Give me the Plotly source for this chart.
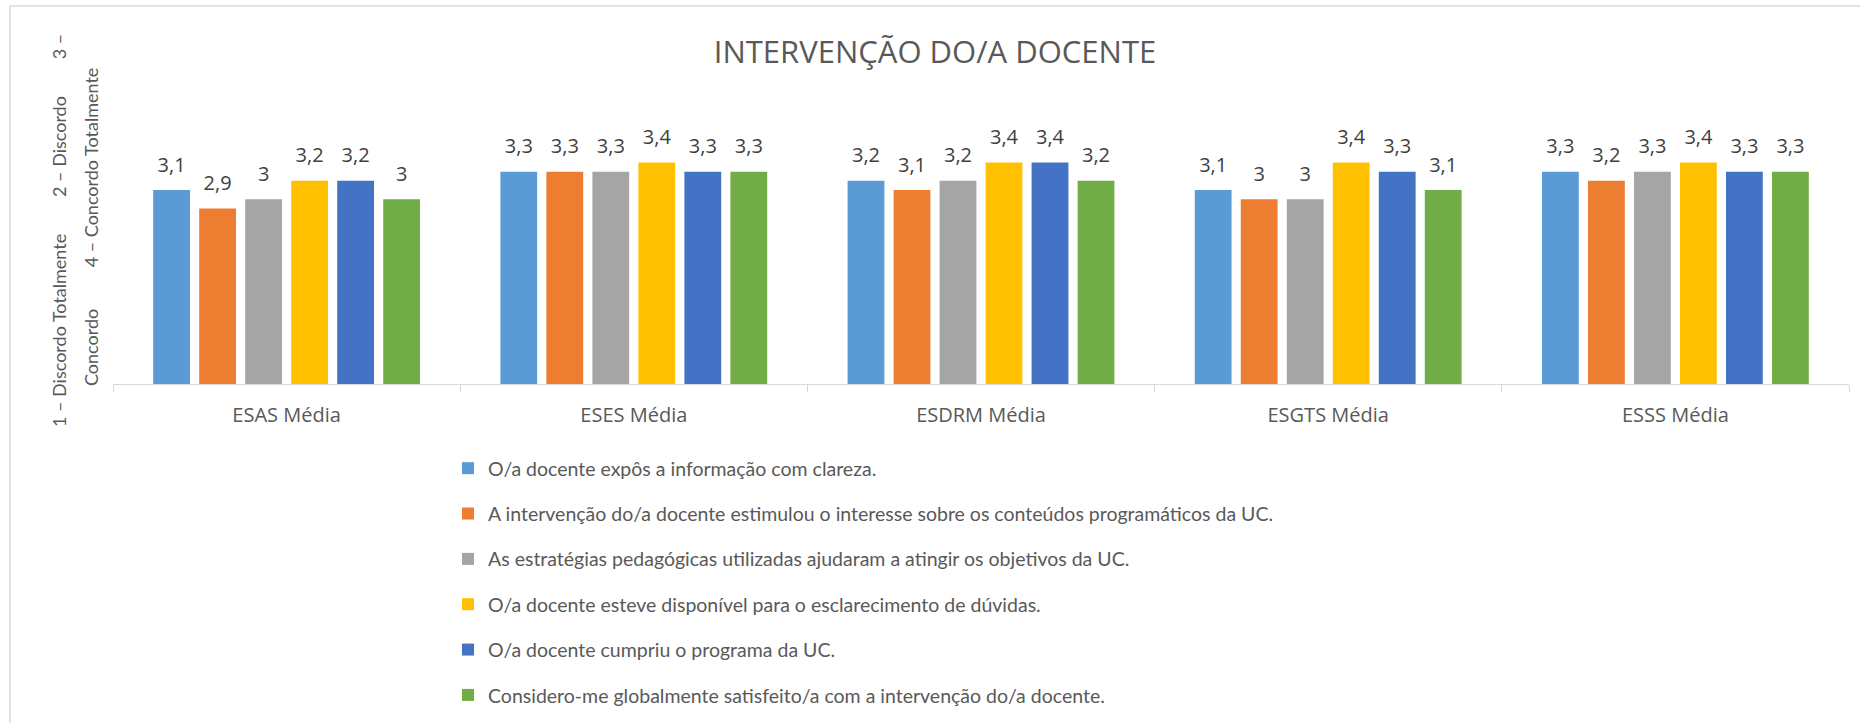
import plotly.graph_objects as go

categories = ["ESAS Média", "ESES Média", "ESDRM Média", "ESGTS Média", "ESSS Média"]
series_names = [
    "O/a docente expôs a informação com clareza.",
    "A intervenção do/a docente estimulou o interesse sobre os conteúdos programáticos da UC.",
    "As estratégias pedagógicas utilizadas ajudaram a atingir os objetivos da UC.",
    "O/a docente esteve disponível para o esclarecimento de dúvidas.",
    "O/a docente cumpriu o programa da UC.",
    "Considero-me globalmente satisfeito/a com a intervenção do/a docente.",
]
s1 = [3.1, 3.3, 3.2, 3.1, 3.3]
s2 = [2.9, 3.3, 3.1, 3.0, 3.2]
s3 = [3.0, 3.3, 3.2, 3.0, 3.3]
s4 = [3.2, 3.4, 3.4, 3.4, 3.4]
s5 = [3.2, 3.3, 3.4, 3.3, 3.3]
s6 = [3.0, 3.3, 3.2, 3.1, 3.3]
series_values = [s1, s2, s3, s4, s5, s6]
colors = ["#5B9BD5", "#ED7D31", "#A5A5A5", "#FFC000", "#4472C4", "#70AD47"]

title_text = "INTERVENÇÃO DO/A DOCENTE"
NB = "\u00a0"
ytitle_line1 = "1 – Discordo Totalmente" + NB * 8 + "2 – Discordo" + NB * 8 + "3 –"
ytitle_line2 = "Concordo" + NB * 9 + "4 – Concordo Totalmente"

W, H = 1860, 723
L, R, T, B = 113, 11, 107, 339
PW = W - L - R
PH = H - T - B


def px_x(p):
    return (p - L) / PW


def px_y(p):
    return (H - B - p) / PH


def fmt(v):
    return f"{v:g}".replace(".", ",")


BODY = "Open Sans, Segoe UI, sans-serif"
NARROW = "Lato, sans-serif"

fig = go.Figure()
for i, (name, vals, col) in enumerate(zip(series_names, series_values, colors)):
    fig.add_trace(go.Bar(
        x=categories, y=vals, name=name,
        marker=dict(color=col, line=dict(width=0)),
        offsetgroup=f"g{i}", alignmentgroup="a", legendgroup=f"g{i}",
        hoverinfo="skip",
    ))
for i, (name, vals) in enumerate(zip(series_names, series_values)):
    fig.add_trace(go.Scatter(
        x=categories, y=vals, mode="markers+text",
        text=[fmt(v) for v in vals], textposition="top center",
        textfont=dict(family=BODY, size=20, color="#404040"),
        marker=dict(size=20, opacity=0),
        offsetgroup=f"g{i}", alignmentgroup="a", orientation="v",
        showlegend=False, hoverinfo="skip", cliponaxis=False,
    ))

fig.update_layout(
    width=W, height=H,
    margin=dict(l=L, r=R, t=T, b=B, autoexpand=False),
    paper_bgcolor="white", plot_bgcolor="white",
    barmode="group", bargap=0.205, bargroupgap=0.2,
    scattermode="group", scattergap=0.205,
    title=dict(text=title_text, x=935 / W, xref="container", xanchor="center",
               y=1 - 52 / H, yref="container", yanchor="middle",
               font=dict(family=BODY, size=31, color="#595959")),
    xaxis=dict(showline=True, linecolor="#D9D9D9", linewidth=1.3,
               ticks="outside", tickson="boundaries", ticklen=7, tickcolor="#D9D9D9",
               tickwidth=1.3, showgrid=False, zeroline=False,
               tickfont=dict(family=BODY, size=20, color="#595959"),
               ticklabelstandoff=13),
    yaxis=dict(range=[1, 4], visible=False, showgrid=False, zeroline=False),
    showlegend=True,
    legend=dict(orientation="v", x=px_x(448), xanchor="left", y=px_y(449), yanchor="top",
                traceorder="grouped", tracegroupgap=17,
                font=dict(family=NARROW, size=19.5, color="#595959"),
                bgcolor="rgba(0,0,0,0)"),
    annotations=[
        dict(text=ytitle_line1, textangle=-90, xref="paper", yref="paper",
             x=px_x(59), y=px_y(231), xanchor="center", yanchor="middle", showarrow=False,
             font=dict(family=NARROW, size=18, color="#595959")),
        dict(text=ytitle_line2, textangle=-90, xref="paper", yref="paper",
             x=px_x(91), y=px_y(227), xanchor="center", yanchor="middle", showarrow=False,
             font=dict(family=NARROW, size=18, color="#595959")),
    ],
    shapes=[
        dict(type="line", xref="paper", yref="paper", x0=px_x(10), x1=px_x(W + 5),
             y0=px_y(6), y1=px_y(6), line=dict(color="#D9D9D9", width=1.5)),
        dict(type="line", xref="paper", yref="paper", x0=px_x(10), x1=px_x(10),
             y0=px_y(6), y1=px_y(H + 5), line=dict(color="#D9D9D9", width=1.5)),
    ],
)

fig.write_html("out.html", post_script="document.body.style.margin='0';",
               config={"displayModeBar": False})
